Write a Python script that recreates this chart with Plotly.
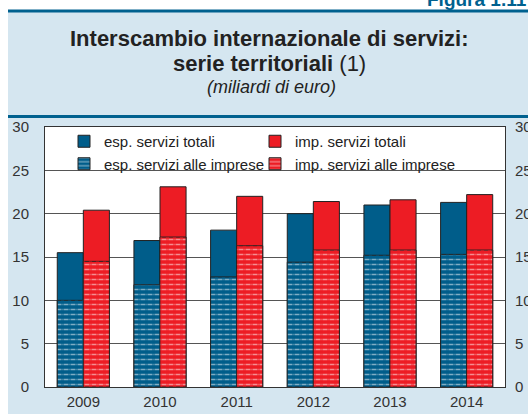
import plotly.graph_objects as go

anni = ['2009', '2010', '2011', '2012', '2013', '2014']
esp_totali = [15.5, 16.9, 18.1, 20.0, 21.0, 21.3]
imp_totali = [20.4, 23.1, 22.0, 21.4, 21.6, 22.2]
esp_imprese = [10.0, 11.8, 12.7, 14.4, 15.2, 15.3]
imp_imprese = [14.5, 17.3, 16.3, 15.8, 15.8, 15.8]
tick_y = [0, 5, 10, 15, 20, 25, 30]

BLU = '#005d8a'
ROSSO = '#ed1c24'
AZZURRO = '#d5e6f0'
BLU_LINEA = '#00618f'
FONT = 'Liberation Sans, Arial, sans-serif'

W, H = 528, 414
L, R, T, B = 45, 505, 127, 387


# pixel -> paper coords (plot area based)
def px(x):
    return (x - L) / (R - L)


def py(y):
    return (B - y) / (B - T)


bw = 0.34
fig = go.Figure()

fig.add_trace(go.Bar(x=anni, y=esp_totali, name='esp. servizi totali', width=bw, offset=-bw, legend='legend',
                     marker=dict(color=BLU, line=dict(color='#222', width=1))))
fig.add_trace(go.Bar(x=anni, y=imp_totali, name='imp. servizi totali', width=bw, offset=0, legend='legend2',
                     marker=dict(color=ROSSO, line=dict(color='#222', width=1))))
fig.add_trace(go.Bar(x=anni, y=esp_imprese, name='esp. servizi alle imprese', width=bw, offset=-bw, legend='legend',
                     marker=dict(color=BLU, line=dict(color='#222', width=1),
                                 pattern=dict(shape='-', fgcolor='white', bgcolor=BLU, size=5, solidity=0.3))))
fig.add_trace(go.Bar(x=anni, y=imp_imprese, name='imp. servizi alle imprese', width=bw, offset=0, legend='legend2',
                     marker=dict(color=ROSSO, line=dict(color='#222', width=1),
                                 pattern=dict(shape='-', fgcolor='white', bgcolor=ROSSO, size=5, solidity=0.3))))
# vertical cuts to turn the white stripes into dashes
for vals, col, off in [(esp_imprese, BLU, -bw), (imp_imprese, ROSSO, 0)]:
    fig.add_trace(go.Bar(x=anni, y=vals, width=bw - 0.01, offset=off + 0.005, showlegend=False, hoverinfo='skip',
                         marker=dict(color='rgba(0,0,0,0)', line=dict(width=0),
                                     pattern=dict(shape='|', fgcolor=col, size=7, solidity=0.45))))

# dummy trace for right axis
fig.add_trace(go.Scatter(x=anni, y=[None] * len(anni), yaxis='y2', showlegend=False, hoverinfo='skip'))

axis_font = dict(family=FONT, size=15, color='#333')
leg = dict(orientation='v', xanchor='left', yanchor='top', y=py(125), bgcolor='rgba(0,0,0,0)',
           font=dict(family=FONT, size=15, color='#222'), traceorder='normal', tracegroupgap=0)
fig.update_layout(
    width=W, height=H,
    margin=dict(l=L, r=W - R, t=T, b=H - B, autoexpand=False),
    paper_bgcolor='white', plot_bgcolor='white',
    barmode='overlay',
    font=dict(family=FONT, color='#222'),
    xaxis=dict(type='category', showline=True, linecolor='#333', linewidth=1, mirror=True, automargin=False,
               ticks='', tickfont=axis_font, ticklabelstandoff=1),
    yaxis=dict(range=[0, 30], tickvals=tick_y, showgrid=True, gridcolor='#555', gridwidth=1, automargin=False,
               showline=True, linecolor='#333', linewidth=1, mirror=True, zeroline=False,
               tickfont=axis_font, ticklabelstandoff=12),
    yaxis2=dict(range=[0, 30], tickvals=tick_y, overlaying='y', side='right', showgrid=False, automargin=False,
                zeroline=False, showline=False, tickfont=axis_font, ticklabelstandoff=9),
    legend=dict(leg, x=px(64)),
    legend2=dict(leg, x=px(255)),
    showlegend=True,
)

shapes = [
    # light blue frame
    dict(type='rect', xref='paper', yref='paper', x0=px(8), x1=px(W + 20), y0=py(H + 20), y1=py(11),
         fillcolor=AZZURRO, line=dict(width=0), layer='below'),
    dict(type='line', xref='paper', yref='paper', x0=px(8), x1=px(W + 20), y0=py(11), y1=py(11),
         line=dict(color=BLU_LINEA, width=3)),
    dict(type='line', xref='paper', yref='paper', x0=px(8), x1=px(W + 20), y0=py(116.5), y1=py(116.5),
         line=dict(color=BLU_LINEA, width=3)),
    # white plot area
    dict(type='rect', xref='paper', yref='paper', x0=0, x1=1, y0=0, y1=1,
         fillcolor='white', line=dict(width=0), layer='below'),
]
fig.update_layout(shapes=shapes)

annotations = [
    dict(text='<b>Interscambio internazionale di servizi:</b>', x=px(269), y=py(38.5), font=dict(size=22)),
    dict(text='<b>serie territoriali</b> (1)', x=px(269), y=py(63), font=dict(size=22)),
    dict(text='<i>(miliardi di euro)</i>', x=px(271), y=py(86.5), font=dict(size=18)),
]
for a in annotations:
    a.update(xref='paper', yref='paper', xanchor='center', yanchor='middle', showarrow=False)
annotations.append(dict(text='<b>Figura 1.11</b>', xref='paper', yref='paper', x=px(425), y=py(-1),
                        xanchor='left', yanchor='middle', showarrow=False,
                        font=dict(size=19, color=BLU_LINEA)))
fig.update_layout(annotations=annotations)

# page body has a default 8px margin: remove it
fig.write_html("out.html", config={'displayModeBar': False},
               post_script="document.body.style.margin='0';")
